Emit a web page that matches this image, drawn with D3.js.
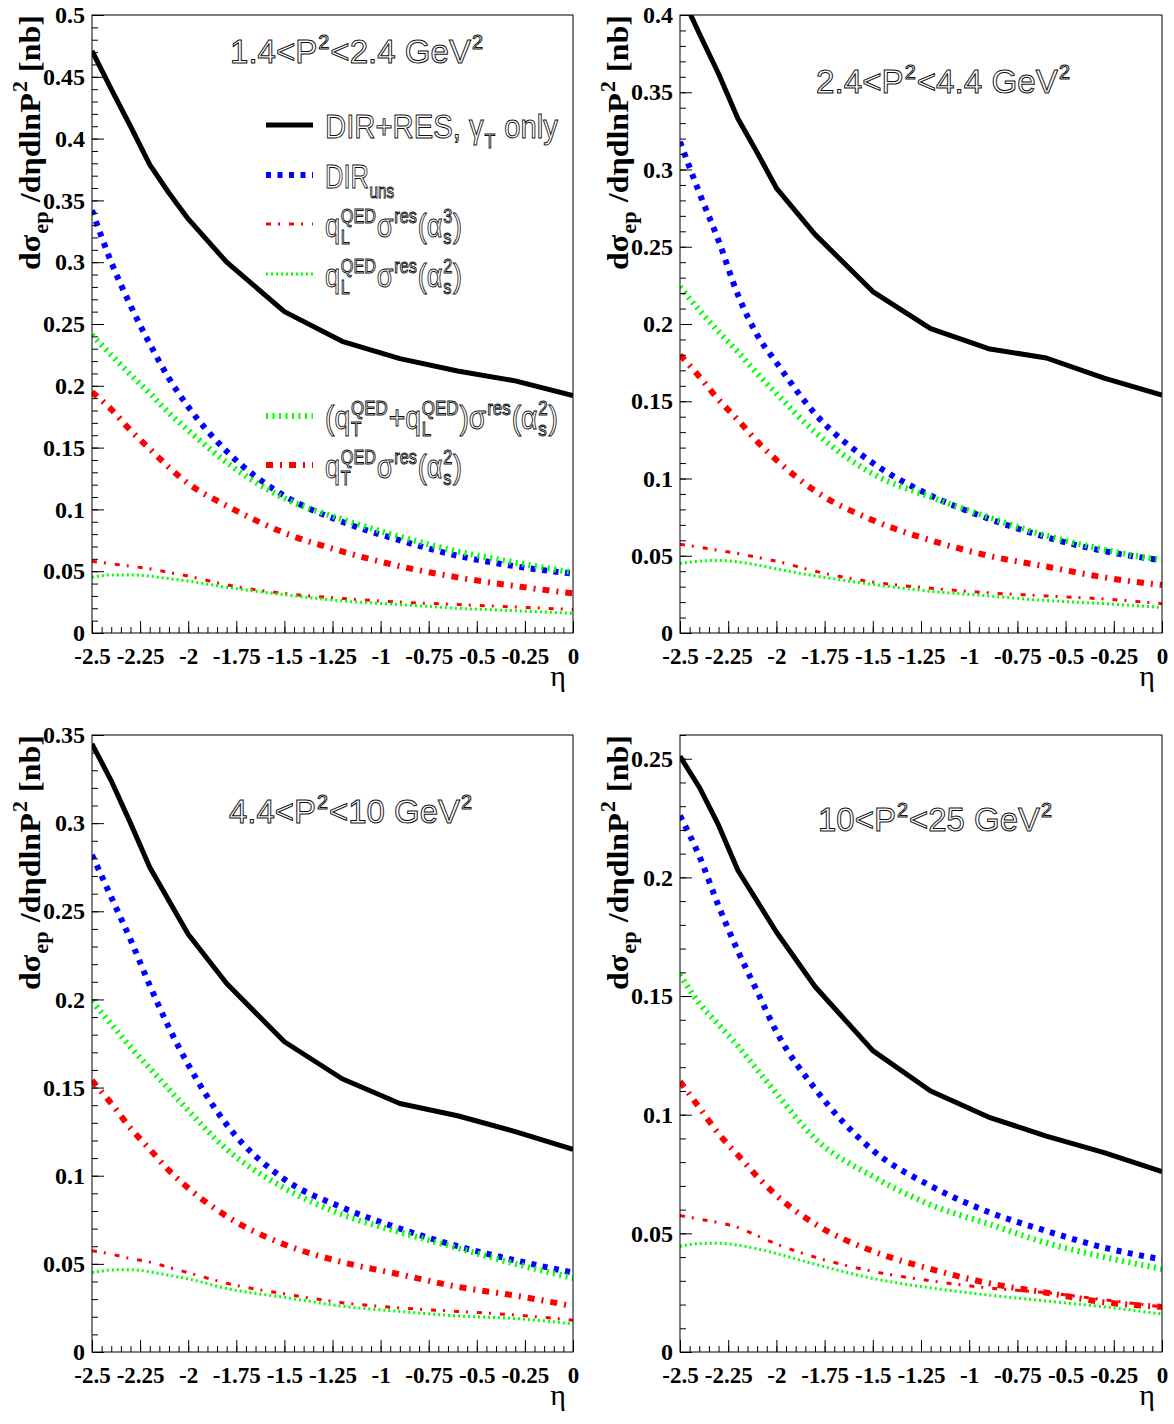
<!DOCTYPE html>
<html>
<head>
<meta charset="utf-8">
<script src="https://cdn.jsdelivr.net/npm/d3@7"></script>
<style>
body { margin: 0; background: #fff; }
svg { display: block; }
text { white-space: pre; }
</style>
</head>
<body>
<svg id="chart" width="1174" height="1424"></svg>
<script>
// eta grid of the calculation
const eta = [-2.5, -2.4, -2.3, -2.2, -2.1, -2.0, -1.8, -1.5, -1.2, -0.9, -0.6, -0.3, 0];

// P^2 bins (one per panel)
const binLow = ["1.4", "2.4", "4.4", "10"];
const binHigh = ["2.4", "4.4", "10", "25"];
const yMax = [0.5, 0.4, 0.35, 0.26];

// DIR+RES, gamma_T only (black solid)
const dirResT = [
    [0.471, 0.440, 0.410, 0.379, 0.356, 0.335, 0.300, 0.260, 0.236, 0.222, 0.212, 0.204, 0.192],
    [0.415, 0.388, 0.362, 0.333, 0.311, 0.288, 0.258, 0.221, 0.197, 0.184, 0.178, 0.165, 0.154],
    [0.345, 0.324, 0.300, 0.275, 0.256, 0.237, 0.209, 0.176, 0.155, 0.141, 0.134, 0.125, 0.115],
    [0.251, 0.238, 0.222, 0.203, 0.190, 0.177, 0.154, 0.127, 0.110, 0.099, 0.091, 0.084, 0.076]
];
// DIR_uns (blue)
const dirUns = [
    [0.342, 0.300, 0.265, 0.234, 0.206, 0.183, 0.147, 0.111, 0.090, 0.075, 0.0625, 0.054, 0.048],
    [0.318, 0.285, 0.254, 0.219, 0.193, 0.175, 0.142, 0.110, 0.089, 0.074, 0.062, 0.053, 0.047],
    [0.282, 0.258, 0.234, 0.208, 0.184, 0.163, 0.129, 0.098, 0.082, 0.070, 0.060, 0.052, 0.045],
    [0.226, 0.209, 0.188, 0.169, 0.152, 0.135, 0.111, 0.085, 0.070, 0.059, 0.051, 0.044, 0.039]
];
// q_L sigma_res (alpha_s^3) (red thin)
const qLa3 = [
    [0.058, 0.056, 0.054, 0.052, 0.049, 0.046, 0.039, 0.032, 0.028, 0.025, 0.023, 0.021, 0.019],
    [0.0575, 0.0555, 0.0535, 0.0515, 0.049, 0.0465, 0.040, 0.033, 0.029, 0.026, 0.024, 0.022, 0.019],
    [0.0575, 0.0555, 0.053, 0.051, 0.048, 0.045, 0.039, 0.033, 0.028, 0.025, 0.023, 0.021, 0.018],
    [0.0575, 0.056, 0.0545, 0.0525, 0.049, 0.0455, 0.040, 0.034, 0.030, 0.027, 0.025, 0.022, 0.019]
];
// q_L sigma_res (alpha_s^2) (green thin)
const qLa2 = [
    [0.045, 0.047, 0.047, 0.046, 0.044, 0.042, 0.037, 0.031, 0.026, 0.023, 0.020, 0.018, 0.016],
    [0.045, 0.0465, 0.047, 0.046, 0.044, 0.0415, 0.037, 0.0315, 0.027, 0.024, 0.021, 0.019, 0.0165],
    [0.045, 0.0465, 0.0467, 0.0455, 0.0435, 0.0415, 0.036, 0.031, 0.026, 0.023, 0.0205, 0.019, 0.016],
    [0.0445, 0.0457, 0.0458, 0.045, 0.0435, 0.0415, 0.037, 0.031, 0.027, 0.024, 0.0215, 0.019, 0.016]
];
// (q_T + q_L) sigma_res (alpha_s^2) (green thick)
const qTLa2 = [
    [0.241, 0.225, 0.209, 0.194, 0.178, 0.164, 0.138, 0.109, 0.092, 0.078, 0.066, 0.057, 0.049],
    [0.224, 0.209, 0.195, 0.182, 0.168, 0.155, 0.130, 0.103, 0.088, 0.075, 0.063, 0.054, 0.047],
    [0.199, 0.186, 0.173, 0.161, 0.149, 0.137, 0.115, 0.093, 0.078, 0.068, 0.059, 0.050, 0.042],
    [0.159, 0.147, 0.138, 0.129, 0.119, 0.109, 0.090, 0.074, 0.062, 0.054, 0.046, 0.040, 0.035]
];
// q_T sigma_res (alpha_s^2) (red thick)
const qTa2 = [
    [0.195, 0.181, 0.164, 0.149, 0.134, 0.121, 0.103, 0.081, 0.066, 0.054, 0.045, 0.038, 0.032],
    [0.180, 0.166, 0.151, 0.138, 0.124, 0.112, 0.092, 0.073, 0.060, 0.050, 0.043, 0.036, 0.031],
    [0.154, 0.141, 0.127, 0.115, 0.103, 0.093, 0.077, 0.061, 0.051, 0.044, 0.037, 0.032, 0.026],
    [0.114, 0.103, 0.092, 0.083, 0.074, 0.066, 0.054, 0.0425, 0.035, 0.029, 0.025, 0.021, 0.019]
];

const svg = d3.select("#chart");

const panels = [
    {x: 92, y: 15, w: 481, h: 618},
    {x: 680, y: 15, w: 482, h: 618},
    {x: 92, y: 735, w: 481, h: 617},
    {x: 680, y: 735, w: 482, h: 617}
];
const titlePos = [
    {x: 230, y: 63, w: 254},
    {x: 816, y: 93, w: 255},
    {x: 229, y: 823, w: 244},
    {x: 818, y: 831, w: 235}
];

const styles = {
    dirResT: {color: "#000", width: 5, dash: null, curve: d3.curveLinear},
    dirUns: {color: "#0000ff", width: 6, dash: "5,6.5", curve: d3.curveMonotoneX},
    qTLa2: {color: "#00ff00", width: 6, dash: "2,4.5", curve: d3.curveMonotoneX},
    qTa2: {color: "#ff0000", width: 6, dash: "7,7,2,7", curve: d3.curveMonotoneX},
    qLa3: {color: "#ff0000", width: 3, dash: "5,7,2,9", curve: d3.curveMonotoneX},
    qLa2: {color: "#00ff00", width: 3, dash: "2,3", curve: d3.curveMonotoneX}
};
const seriesData = {dirResT, dirUns, qTLa2, qTa2, qLa3, qLa2};
const drawOrder = ["dirResT", "dirUns", "qTLa2", "qTa2", "qLa3", "qLa2"];

const fmt = d => d === 0 ? "0" : String(+d.toFixed(2));
const serif = "'Liberation Serif', 'Times New Roman', serif";
const sans = "'Liberation Sans', Arial, sans-serif";

//Text with stacked super/subscripts, stretched to a given width
function richText(parent, parts, o)
{
    let g = parent.append("g");
    let inner = g.append("g")
        .style("font-family", o.family)
        .style("font-weight", o.weight || "normal");
    if(o.outline)
        inner.attr("fill", "#fff").attr("stroke", "#111").attr("stroke-width", 1.0);
    else
        inner.attr("fill", "#000");

    let cx = 0;
    parts.forEach((p) => {
        if(typeof p === "string")
        {
            let t = inner.append("text").attr("x", cx).attr("y", 0)
                .style("font-size", o.fs + "px").text(p);
            cx += t.node().getComputedTextLength();
        }
        else
        {
            let w = 0;
            let ss = o.fs * (o.small || 0.6);
            if(p.sup)
            {
                let t = inner.append("text").attr("x", cx + 1).attr("y", -o.fs * 0.42)
                    .style("font-size", ss + "px").text(p.sup);
                w = Math.max(w, t.node().getComputedTextLength());
            }
            if(p.sub)
            {
                let t = inner.append("text").attr("x", cx + 1).attr("y", o.fs * (p.sup ? 0.2 : 0.28))
                    .style("font-size", ss + "px").text(p.sub);
                w = Math.max(w, t.node().getComputedTextLength());
            }
            cx += w + 2;
        }
    });
    let sx = o.width ? o.width / cx : 1;
    g.attr("transform", "translate(" + o.x + "," + o.y + ")" + (o.rotate ? " rotate(-90)" : "") + " scale(" + sx + ",1)");
    return g;
}

panels.forEach((p, i) => {

    let xScale = d3.scaleLinear().domain([-2.5, 0]).range([p.x, p.x + p.w]);
    let yScale = d3.scaleLinear().domain([0, yMax[i]]).range([p.y + p.h, p.y]);

    let clipId = "clip" + i;
    svg.append("clipPath").attr("id", clipId)
        .append("rect").attr("x", p.x).attr("y", p.y).attr("width", p.w).attr("height", p.h);

    //Curves
    let plot = svg.append("g").attr("clip-path", "url(#" + clipId + ")");
    drawOrder.forEach((key) => {
        let st = styles[key];
        let line = d3.line()
            .x((d, k) => xScale(eta[k]))
            .y(d => yScale(d))
            .curve(st.curve);
        plot.append("path")
            .datum(seriesData[key][i])
            .attr("fill", "none")
            .attr("stroke", st.color)
            .attr("stroke-width", st.width)
            .attr("stroke-dasharray", st.dash)
            .attr("stroke-linejoin", "round")
            .attr("d", line);
    });

    //Frame
    svg.append("rect")
        .attr("x", p.x).attr("y", p.y).attr("width", p.w).attr("height", p.h)
        .attr("fill", "none").attr("stroke", "#000").attr("stroke-width", 1);

    //Axes: minor and major ticks pointing inside
    let xMajor = d3.range(0, 11).map(k => -2.5 + k * 0.25);
    let xMinor = d3.range(0, 51).map(k => +(-2.5 + k * 0.05).toFixed(2));
    let nMaj = Math.floor(yMax[i] / 0.05 + 1e-6);
    let yMajor = d3.range(0, nMaj + 1).map(k => +(k * 0.05).toFixed(2));
    let yMinor = d3.range(0, Math.round(yMax[i] / 0.01) + 1).map(k => +(k * 0.01).toFixed(2));

    let gx = svg.append("g").attr("transform", "translate(0," + (p.y + p.h) + ")");
    gx.call(d3.axisBottom(xScale).tickValues(xMinor).tickSize(-6).tickFormat(""));
    let gxm = svg.append("g").attr("transform", "translate(0," + (p.y + p.h) + ")");
    gxm.call(d3.axisBottom(xScale).tickValues(xMajor).tickSize(-12).tickPadding(0).tickFormat(fmt));

    let gy = svg.append("g").attr("transform", "translate(" + p.x + ",0)");
    gy.call(d3.axisLeft(yScale).tickValues(yMinor).tickSize(-6).tickFormat(""));
    let gym = svg.append("g").attr("transform", "translate(" + p.x + ",0)");
    gym.call(d3.axisLeft(yScale).tickValues(yMajor).tickSize(-12).tickPadding(7).tickFormat(fmt));

    [gx, gxm, gy, gym].forEach(a => {
        a.select(".domain").remove();
        a.selectAll(".tick line").attr("stroke", "#000").attr("stroke-width", 1);
    });
    gxm.selectAll("text")
        .attr("y", 31).attr("dy", 0)
        .style("font-family", serif).style("font-weight", "bold").style("font-size", "23px")
        .attr("fill", "#000");
    gym.selectAll("text")
        .attr("x", -7)
        .style("font-family", serif).style("font-weight", "bold").style("font-size", "24px")
        .attr("fill", "#000");

    //eta label
    svg.append("text")
        .attr("x", p.x + p.w - 7).attr("y", p.y + p.h + 53)
        .attr("text-anchor", "end")
        .style("font-family", serif).style("font-size", "30px")
        .text("η");

    //y label
    richText(svg, ["dσ", {sub: "ep"}, " /dηdlnP", {sup: "2"}, " [nb]"],
        {x: p.x - 52, y: p.y + 255, fs: 30, family: serif, weight: "bold", small: 0.7, width: 255, rotate: true});

    //Panel title
    let tp = titlePos[i];
    richText(svg, [binLow[i] + "<P", {sup: "2"}, "<" + binHigh[i] + " GeV", {sup: "2"}],
        {x: tp.x, y: tp.y, fs: 34, family: sans, outline: true, width: tp.w});
});

//Legend in the first panel
const legendRows = [
    {key: "dirResT", y: 125, w: 233, parts: ["DIR+RES, γ", {sub: "T"}, " only"]},
    {key: "dirUns", y: 175, w: 70, parts: ["DIR", {sub: "uns"}]},
    {key: "qLa3", y: 224, w: 137, parts: ["q", {sup: "QED", sub: "L"}, "σ", {sup: "res"}, "(α", {sup: "3", sub: "s"}, ")"]},
    {key: "qLa2", y: 274, w: 137, parts: ["q", {sup: "QED", sub: "L"}, "σ", {sup: "res"}, "(α", {sup: "2", sub: "s"}, ")"]},
    {key: "qTLa2", y: 416, w: 233, parts: ["(q", {sup: "QED", sub: "T"}, "+q", {sup: "QED", sub: "L"}, ")σ", {sup: "res"}, "(α", {sup: "2", sub: "s"}, ")"]},
    {key: "qTa2", y: 465, w: 137, parts: ["q", {sup: "QED", sub: "T"}, "σ", {sup: "res"}, "(α", {sup: "2", sub: "s"}, ")"]}
];
legendRows.forEach((r) => {
    let st = styles[r.key];
    svg.append("line")
        .attr("x1", 266).attr("x2", 313).attr("y1", r.y).attr("y2", r.y)
        .attr("stroke", st.color).attr("stroke-width", st.width)
        .attr("stroke-dasharray", st.dash);
    richText(svg, r.parts, {x: 325, y: r.y + 13, fs: 34, family: sans, outline: true, width: r.w});
});
</script>
</body>
</html>
